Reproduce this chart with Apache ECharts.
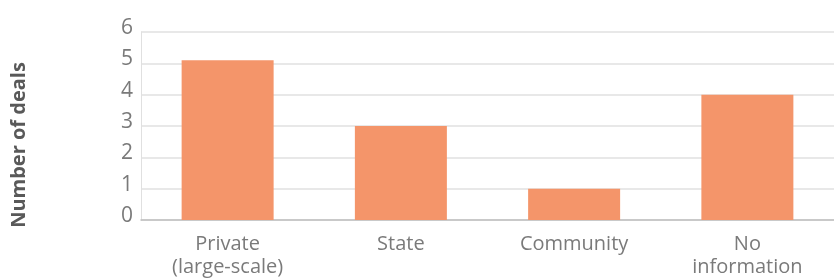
<!DOCTYPE html>
<html>
<head>
<meta charset="utf-8">
<script src="https://cdn.jsdelivr.net/npm/echarts@6/dist/echarts.min.js"></script>
<style>
  html, body { margin: 0; padding: 0; background: #fff; }
  #chart { width: 834px; height: 280px; }
</style>
</head>
<body>
<div id="chart"></div>
<script>
// 数据
var categories = ['Private\n(large-scale)', 'State', 'Community', 'No\ninformation'];
var deals = [5.1, 3, 1, 4];
var yTicks = [0, 1, 2, 3, 4, 5, 6];

var mychart = echarts.init(document.getElementById('chart'));
var option = {
  animation: false,
  grid: { left: 141, right: 0, top: 32, bottom: 60 },
  graphic: [{
    type: 'text',
    x: 19, y: 145,
    rotation: Math.PI / 2,
    style: {
      text: 'Number of deals',
      fontFamily: 'Open Sans',
      fontSize: 20,
      fontWeight: 'bold',
      fill: '#595959',
      align: 'center',
      verticalAlign: 'middle'
    }
  }],
  xAxis: {
    type: 'category',
    data: categories,
    axisTick: { show: false },
    axisLine: { lineStyle: { color: '#bfbfbf', width: 1.5 } },
    axisLabel: {
      color: '#7a7a7a',
      fontFamily: 'Open Sans',
      fontSize: 20,
      lineHeight: 23,
      margin: 13,
      interval: 0
    }
  },
  yAxis: {
    type: 'value',
    min: yTicks[0],
    max: yTicks[yTicks.length - 1],
    interval: 1,
    axisLine: { show: true, lineStyle: { color: '#e0e0e0', width: 1 } },
    axisTick: { show: false },
    splitLine: { lineStyle: { color: '#e0e0e0', width: 1.5 } },
    axisLabel: {
      color: '#7a7a7a',
      fontFamily: 'Open Sans',
      fontSize: 21,
      margin: 8,
      verticalAlign: 'bottom',
      lineHeight: 8
    }
  },
  series: [{
    type: 'bar',
    data: deals,
    barWidth: 92,
    itemStyle: { color: '#f4956a' }
  }]
};
mychart.setOption(option);
</script>
</body>
</html>
